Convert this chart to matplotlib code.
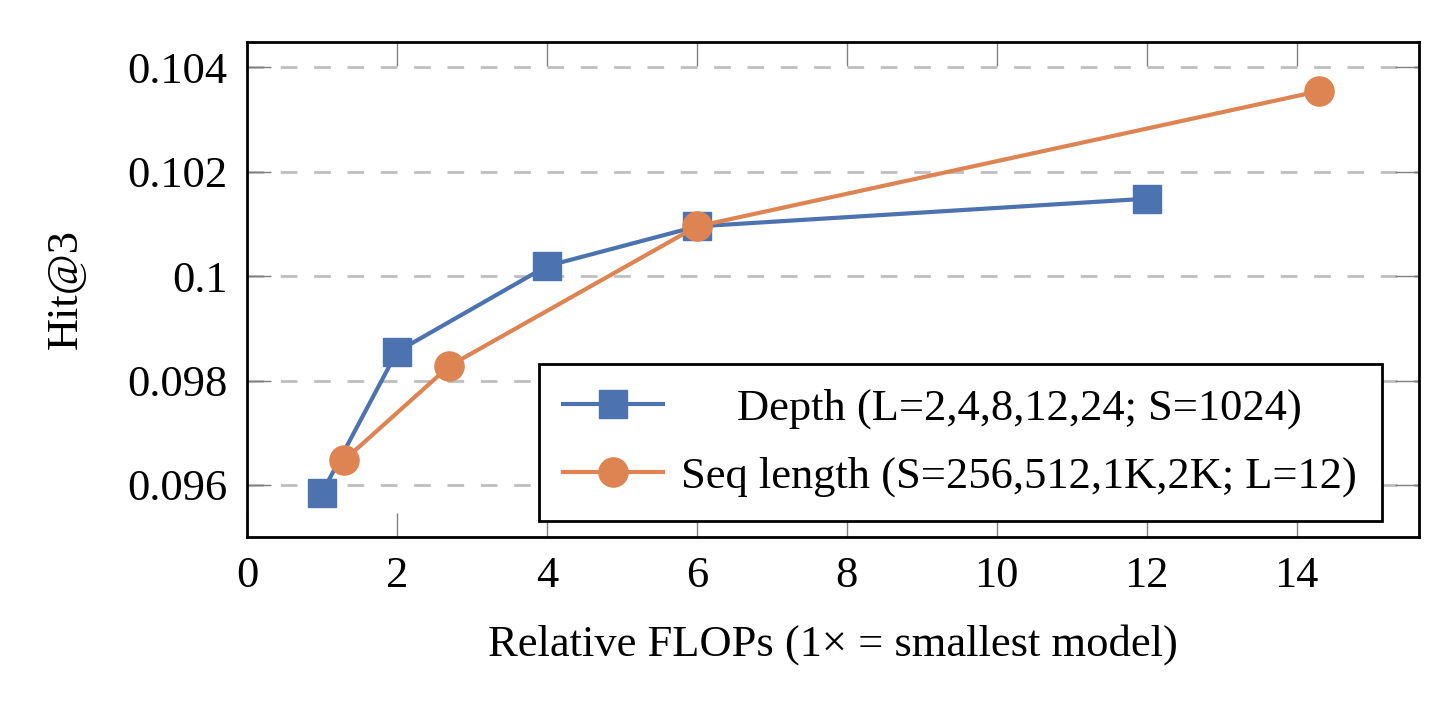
import numpy as np
import matplotlib.pyplot as plt
from matplotlib.transforms import ScaledTranslation

# data
depth_x = [1, 2, 4, 6, 12]
depth_y = [0.09585, 0.09855, 0.10019, 0.10095, 0.10148]
seq_x = [1.3, 2.7, 6, 14.3]
seq_y = [0.09648, 0.09828, 0.10095, 0.10354]

depth_label = 'Depth (L=2,4,8,12,24; S=1024)'
seq_label = 'Seq length (S=256,512,1K,2K; L=12)'
x_ticks = [0, 2, 4, 6, 8, 10, 12, 14]
y_ticks = [0.096, 0.098, 0.1, 0.102, 0.104]
y_tick_labels = ['0.096', '0.098', '0.1', '0.102', '0.104']

plt.rcParams['font.family'] = ['Liberation Serif', 'DejaVu Serif']
fs = 32

fig = plt.figure(figsize=(14.52, 7.2), dpi=100)
ax = fig.add_axes([0.1701, 0.2542, 0.8072, 0.6875])

blue = '#4C72B0'
orange = '#DD8452'

ax.plot(depth_x, depth_y, color=blue, lw=3, marker='s', markersize=20,
        label=depth_label, zorder=3)
ax.plot(seq_x, seq_y, color=orange, lw=3, marker='o', markersize=21,
        label=seq_label, zorder=3)

ax.set_xlim(0, 15.63)
ax.set_ylim(0.095005, 0.10448)
ax.set_xticks(x_ticks)
ax.set_yticks(y_ticks)
ax.set_yticklabels(y_tick_labels)

ax.grid(axis='y', color='#bfbfbf', lw=2, linestyle=(0, (6, 6)), zorder=1)
ax.tick_params(direction='in', length=17, width=1, color='#808080',
               top=True, right=True, labelsize=fs, pad=14)
for s in ax.spines.values():
    s.set_linewidth(2)
    s.set_color('black')

ax.set_xlabel('Relative FLOPs (1\u00d7 = smallest model)', fontsize=fs, labelpad=20)
ax.set_ylabel('Hit@3', fontsize=fs, labelpad=30)

leg = ax.legend(loc='lower right', bbox_to_anchor=(0.968, 0.032), fontsize=fs,
                frameon=True, fancybox=False, edgecolor='black', framealpha=1,
                handlelength=2.25, handletextpad=0.4, borderpad=0.55,
                labelspacing=0.6, borderaxespad=0)
leg.get_frame().set_linewidth(2)

# pgfplots centres legend entries: shift the shorter label to the middle
fig.canvas.draw()
texts = leg.get_texts()
r = fig.canvas.get_renderer()
w0 = texts[0].get_window_extent(r).width
w1 = texts[1].get_window_extent(r).width
dx = (w1 - w0) / 2 / fig.dpi
texts[0].set_transform(texts[0].get_transform() + ScaledTranslation(dx, 0, fig.dpi_scale_trans))

plt.savefig('out.png', dpi=100)
